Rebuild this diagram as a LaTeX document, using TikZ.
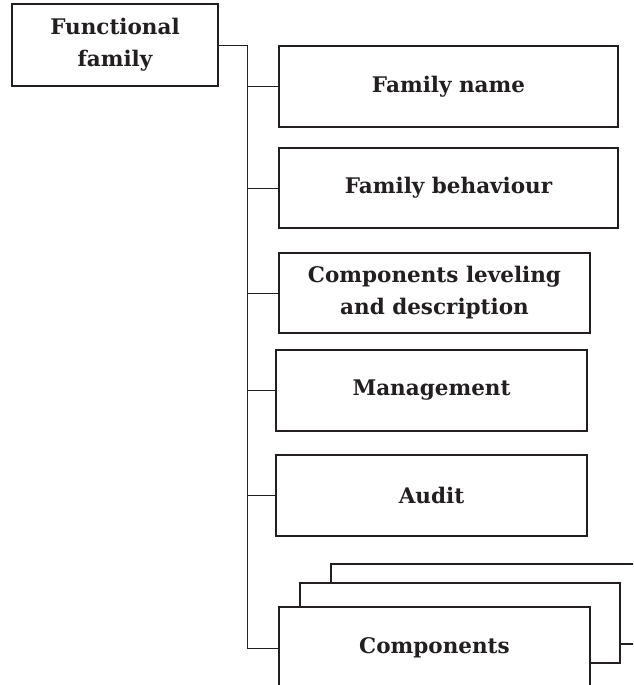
\documentclass[tikz,border=0pt]{standalone}
\usepackage{fontspec}
\setmainfont{DejaVu Serif}
\definecolor{ink}{HTML}{231F20}
\begin{document}
\begin{tikzpicture}[x=1pt,y=-1pt,
  box/.style={draw=ink,line width=1.5pt,fill=white,inner sep=0pt,align=center,
    text=ink,font=\bfseries\fontsize{21.5}{32}\selectfont},
  conn/.style={draw=ink,line width=0.8pt}]
\useasboundingbox (0,0) rectangle (633,685);
\clip (0,0) rectangle (633,685);
\node[box,minimum width=206pt,minimum height=82pt] (ff) at (115,45) {Functional\\family};
\node[box,minimum width=339pt,minimum height=81pt] (fn) at (448.5,86.5) {Family name};
\node[box,minimum width=339pt,minimum height=80pt] (fb) at (448.5,188) {Family behaviour};
\node[box,minimum width=311pt,minimum height=80pt] (cl) at (434.5,293) {Components leveling\\and description};
\node[box,minimum width=311pt,minimum height=81pt] (mg) at (431.5,390.5) {Management};
\node[box,minimum width=311pt,minimum height=81pt] (au) at (431.5,495.5) {Audit};
\node[box,minimum width=330pt,minimum height=80pt] (cb) at (496,604) {};
\node[box,minimum width=320pt,minimum height=80pt] (cm) at (460,623) {};
\node[box,minimum width=311pt,minimum height=82pt] (cf) at (434.5,648) {Components};
\coordinate (bus) at (247,45);
\draw[conn] (ff.east) -- (bus) |- (cf.west);
\draw[conn] (bus |- fn.west) -- (fn.west);
\draw[conn] (bus |- fb.west) -- (fb.west);
\draw[conn] (bus |- cl.west) -- (cl.west);
\draw[conn] (bus |- mg.west) -- (mg.west);
\draw[conn] (bus |- au.west) -- (au.west);
\end{tikzpicture}
\end{document}
